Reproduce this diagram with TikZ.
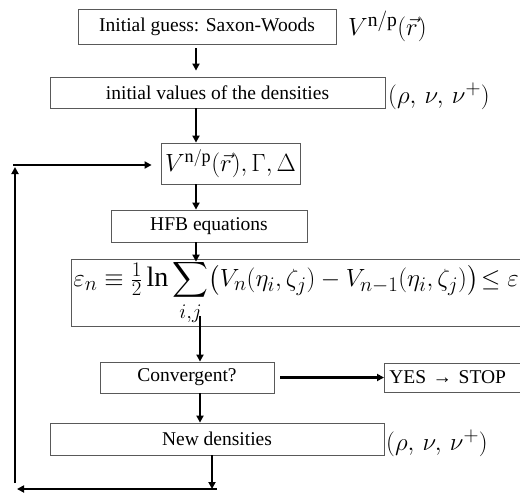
\documentclass[tikz,border=0pt]{standalone}
\usepackage{amsmath}
\usepackage{exscale}
\usepackage{fontspec}
\setmainfont{Liberation Serif}
\usetikzlibrary{arrows.meta}

\tikzset{
  box/.style={draw=black!65, line width=0.8pt, inner sep=0pt, minimum height=31pt},
  flow/.style={-{Triangle[length=7pt,width=7pt]}, line width=2.3pt},
  lbl/.style={anchor=west, inner sep=0pt, font=\fontsize{32}{34}\selectfont},
}

\begin{document}
\begin{tikzpicture}[x=1pt, y=-1pt, font=\fontsize{19.5}{23}\selectfont]
  \useasboundingbox (0,0) rectangle (520,495);
  \clip (0,0) rectangle (520,495);
  % Kasten
  \node[box, minimum width=258pt, minimum height=35pt] (guess) at (207,26.5) {Initial guess: Saxon-Woods};
  \node[box, minimum width=335pt] (init) at (217.5,92.5) {initial values of the densities};
  \node[box, minimum width=139pt, minimum height=41pt] (pot) at (230.5,163.5)
       {\fontsize{26}{28}\selectfont$V^{\mathrm{n/p}}(\vec{r}),\Gamma,\Delta$};
  \node[box, minimum width=196pt, minimum height=32pt] (hfb) at (209,226) {HFB equations};
  \node[box, anchor=west, minimum height=67pt, text width=476pt, align=left, inner xsep=2pt] (crit) at (71,292.5)
       {\fontsize{28}{30}\selectfont$\varepsilon_n\equiv\tfrac{1}{2}\ln\displaystyle\sum_{i,j}\!\left(V_n(\eta_i,\zeta_j)-V_{n-1}(\eta_i,\zeta_j)\right)\!\leq\varepsilon$};
  \node[box, minimum width=174pt] (conv) at (187,377.5) {Convergent?};
  \node[box, anchor=west, minimum height=29pt, text width=150pt, align=left, inner xsep=5pt] (yes) at (384,377.5) {YES → STOP};
  \node[box, minimum width=334pt, minimum height=32pt] (dens) at (217,439) {New densities};
  % Beschriftungen
  \node[lbl, font=\fontsize{28}{30}\selectfont] (potlbl) at (348,26) {$V^{\mathrm{n/p}}(\vec{r})$};
  \node[lbl] (initlbl) at (388,96) {$(\rho,\,\nu,\,\nu^{+})$};
  \node[lbl] (denslbl) at (386,443) {$(\rho,\,\nu,\,\nu^{+})$};
  % Pfeile
  \coordinate (spineA) at (196,0);
  \coordinate (spineB) at (200,0);
  \coordinate (spineC) at (212,0);
  \draw[flow, shorten <=4pt, shorten >=6pt] (guess.south -| spineA) -- (init.north -| spineA);
  \draw[flow] (init.south -| spineA) -- (pot.north -| spineA);
  \draw[flow] (pot.south -| spineA) -- (hfb.north -| spineA);
  \draw[flow, shorten >=-3pt] (hfb.south -| spineA) -- (crit.north -| spineA);
  \draw[flow, shorten <=-10pt] (crit.south -| spineB) -- (conv.north -| spineB);
  \draw[flow, shorten <=6pt] (conv.east) -- (yes.west);
  \draw[flow] (conv.south -| spineB) -- (dens.north -| spineB);
  % Rueckkopplung
  \coordinate (loopBR) at (217,489);
  \coordinate (loopBL) at (15,489);
  \coordinate (loopTL) at (15,165);
  \draw[flow] (dens.south -| spineC) -- (spineC |- loopBR);
  \draw[flow, shorten >=2pt] (loopBR) -- (loopBL);
  \draw[flow, shorten <=6pt, shorten >=2pt] (loopBL) -- (loopTL);
  \draw[flow, shorten <=-2pt, shorten >=9pt] (loopTL) -- (pot.west |- loopTL);
\end{tikzpicture}
\end{document}
